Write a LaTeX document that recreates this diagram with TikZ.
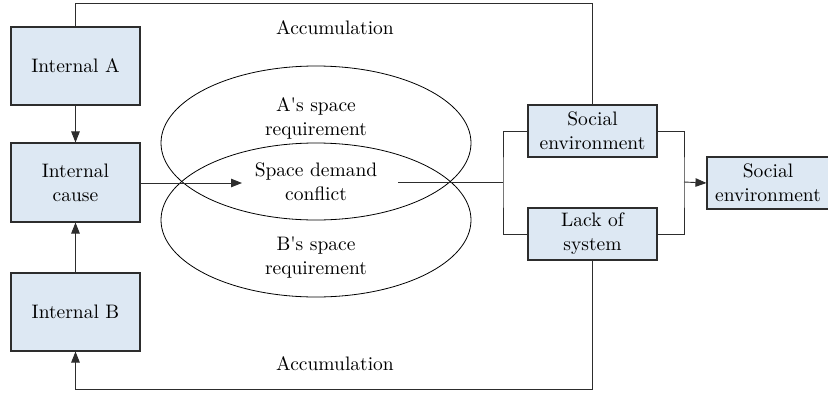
\documentclass[tikz,border=0pt]{standalone}
\usepackage{fontspec}
\setmainfont{lmroman10-regular.otf}
\usetikzlibrary{arrows.meta}
\definecolor{boxfill}{RGB}{221,232,243}
\definecolor{edge}{RGB}{45,45,45}
\begin{document}
\begin{tikzpicture}[x=1pt,y=-1pt,
  font=\fontsize{19.5}{24}\selectfont,
  box/.style={draw=edge,line width=1.1pt,fill=boxfill,align=center,inner sep=0pt},
  conn/.style={draw=edge,line width=0.9pt},
  arr/.style={conn,-{Triangle[length=11pt,width=8.5pt]}},
  lbl/.style={align=center,inner sep=0pt}]
\useasboundingbox (0,0) rectangle (828,394);
% ellipses
\draw[line width=0.8pt] (316,143) ellipse [x radius=155, y radius=77];
\draw[line width=0.8pt] (316,220) ellipse [x radius=155, y radius=77];
% boxes
\node[box,minimum width=129pt,minimum height=78pt] (A) at (75.5,66) {Internal A};
\node[box,minimum width=129pt,minimum height=79pt] (C) at (75.5,182.5) {Internal\\cause};
\node[box,minimum width=129pt,minimum height=78pt] (B) at (75.5,312) {Internal B};
\node[box,minimum width=129pt,minimum height=52pt] (soc) at (592.5,131) {Social\\environment};
\node[box,minimum width=129pt,minimum height=52pt] (lack) at (592.5,234) {Lack of\\system};
\node[box,minimum width=122pt,minimum height=52pt] (fin) at (768,183) {Social\\environment};
% texts
\node[lbl] (acc1) at (335,28) {Accumulation};
\node[lbl] (acc2) at (335,364) {Accumulation};
\node[lbl] (areq) at (316,118) {A\textquotesingle s space\\requirement};
\node[lbl] (conf) at (316,182) {Space demand\\conflict};
\node[lbl] (breq) at (316,258) {B\textquotesingle s space\\requirement};
% coordinates
\coordinate (top) at (592.5,3);
\coordinate (bot) at (592.5,389);
\coordinate (cin) at (242,183);
\coordinate (cout) at (398,182);
\coordinate (jl) at (503,182);
\coordinate (jr) at (684,182);
% connectors
\draw[arr] (A.south) -- (C.north);
\draw[arr] (B.north) -- (C.south);
\draw[conn] (A.north) |- (top) -- (soc.north);
\draw[arr] (lack.south) -- (bot) -| (B.south);
\draw[arr] (C.east |- cin) -- (cin);
\draw[conn] (cout) -- (jl);
\draw[conn] (soc.west) -| (jl) |- (lack.west);
\draw[conn] (soc.east) -| (jr) |- (lack.east);
\draw[arr] (jr) -- (fin.west);
\end{tikzpicture}
\end{document}
